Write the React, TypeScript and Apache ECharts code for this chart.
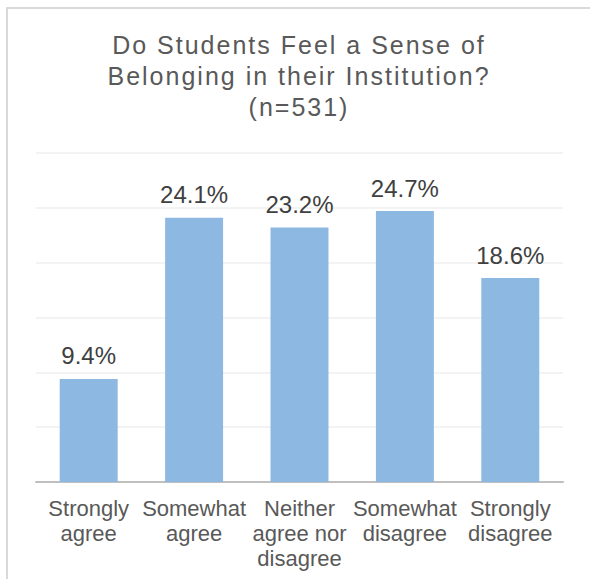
import React, { useEffect, useRef } from "react";
import * as echarts from "echarts";

const categories: string[] = [
  "Strongly\nagree",
  "Somewhat\nagree",
  "Neither\nagree nor\ndisagree",
  "Somewhat\ndisagree",
  "Strongly\ndisagree",
];
const values: number[] = [9.4, 24.1, 23.2, 24.7, 18.6];
const titleLines: string[] = [
  "Do Students Feel a Sense of",
  "Belonging in their Institution?",
  "(n=531)",
];

export default function App() {
  const ref = useRef<HTMLDivElement>(null);
  useEffect(() => {
    if (!ref.current) return;
    const chart = echarts.init(ref.current, null, { renderer: "svg" });
    const font = "'Liberation Sans', Arial, sans-serif";
    chart.setOption({
      animation: false,
      backgroundColor: "#ffffff",
      title: {
        text: titleLines.join("\n"),
        left: 299,
        textAlign: "center",
        top: 29,
        padding: 0,
        textStyle: {
          fontFamily: font,
          fontSize: 25,
          fontWeight: "normal",
          color: "#595959",
          lineHeight: 31,
        },
      },
      graphic: [
        {
          type: "rect",
          shape: { x: 7, y: 8, width: 700, height: 700 },
          style: { fill: "none", stroke: "#D9D9D9", lineWidth: 2 },
          silent: true,
        },
      ],
      grid: { left: 36, right: 27, top: 153, bottom: 97, containLabel: false },
      xAxis: {
        type: "category",
        data: categories,
        axisTick: { show: false },
        axisLine: { lineStyle: { color: "#BFBFBF", width: 2 } },
        axisLabel: {
          interval: 0,
          margin: 14,
          fontFamily: font,
          fontSize: 22,
          lineHeight: 25,
          color: "#595959",
        },
      },
      yAxis: {
        type: "value",
        min: 0,
        max: 30,
        interval: 5,
        axisLabel: { show: false },
        axisLine: { show: false },
        axisTick: { show: false },
        splitLine: { lineStyle: { color: "#EFEFEF", width: 1.5 } },
      },
      series: [
        {
          type: "bar",
          data: values,
          barWidth: "55%",
          itemStyle: { color: "#8DB8E1" },
          label: {
            show: true,
            position: "top",
            distance: 11,
            formatter: (p: any) => p.value.toFixed(1) + "%",
            fontFamily: font,
            fontSize: 24,
            color: "#404040",
          },
        },
      ],
    });
    // Emulate the wider letter spacing of the original title.
    ref.current.querySelectorAll("text").forEach((t) => {
      const s = (t.textContent || "").trim();
      if (titleLines.indexOf(s) >= 0) {
        (t as SVGTextElement).style.letterSpacing = "2px";
      }
    });
    return () => chart.dispose();
  }, []);
  return (
    <div
      ref={ref}
      style={{ position: "fixed", left: 0, top: 0, width: 590, height: 579 }}
    />
  );
}
